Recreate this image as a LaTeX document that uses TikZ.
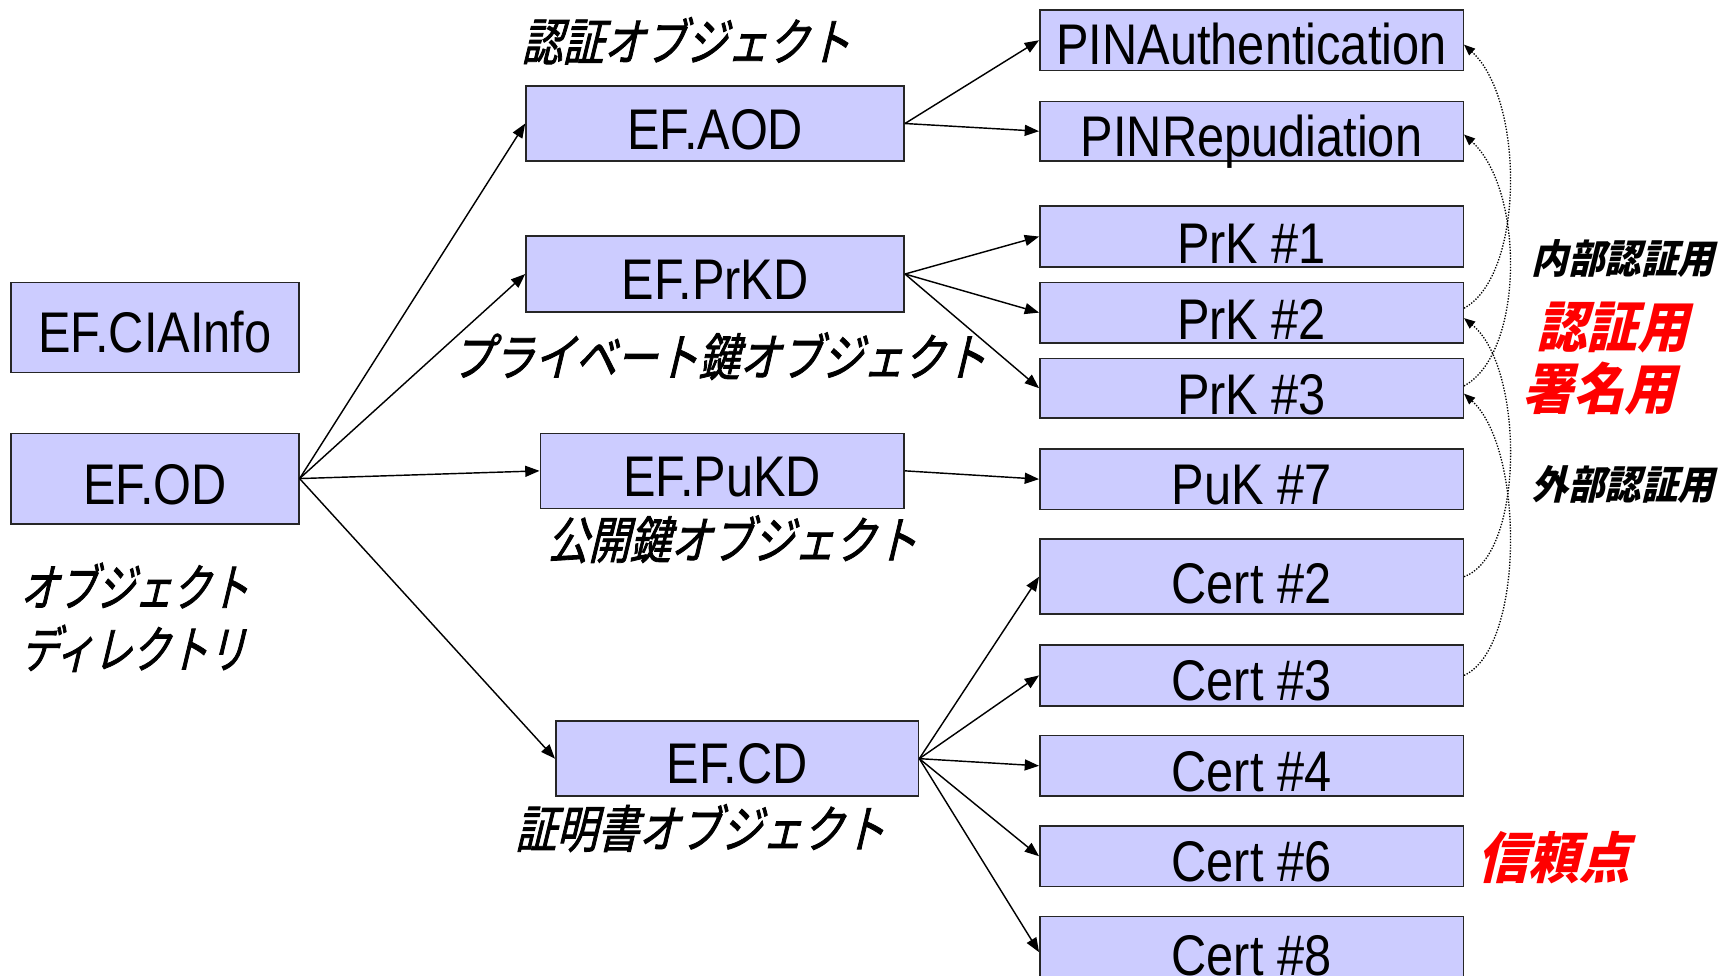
\documentclass[tikz,border=0pt]{standalone}
\usepackage{fontspec}
\usetikzlibrary{arrows.meta}
\newfontfamily\boxfont[FakeStretch=0.85]{Liberation Sans}
\newfontfamily\jpfont[FakeSlant=0.24,FakeStretch=0.81,FakeBold=1.6]{Noto Sans CJK JP}
\newfontfamily\jpnarrow[FakeSlant=0.24,FakeStretch=0.75,FakeBold=1.6]{Noto Sans CJK JP}
\newfontfamily\jpheavy[FakeSlant=0.24,FakeStretch=0.92]{Noto Sans CJK JP}
\definecolor{boxfill}{RGB}{204,204,255}
\definecolor{hot}{RGB}{255,0,0}

% object box: name, left, top, right, bottom, text, baseline lift
\newcommand\objbox[7]{%
  \node[objframe, minimum width={(#4-#2)*0.5pt}, minimum height={(#5-#3)*0.5pt}]
    (#1) at ({(#2+#4)/2},{(#3+#5)/2}) {};
  \node[objlabel] (#1-text) at ([yshift=#7]#1.south) {#6};
}

\tikzset{
  objframe/.style={draw=black!85, fill=boxfill, line width=0.7pt, inner sep=0pt, rectangle},
  objlabel/.style={anchor=base, inner sep=0pt, font=\boxfont\fontsize{26}{30}\selectfont},
  caption/.style={inner sep=0pt, font=\jpfont\fontsize{23}{28}\selectfont},
  dircaption/.style={inner sep=0pt, anchor=west, font=\jpnarrow\fontsize{23}{28}\selectfont},
  note/.style={inner sep=0pt, font=\jpheavy\bfseries\fontsize{18}{21}\selectfont},
  rednote/.style={inner sep=0pt, text=hot, font=\jpheavy\bfseries\fontsize{25}{29}\selectfont},
  link/.style={line width=0.65pt, -{Triangle[length=6.5pt,width=5pt]}},
  dotlink/.style={line width=0.6pt, dash pattern=on 0.6pt off 0.7pt,
                  -{Triangle[length=5pt,width=4pt]}}
}

\begin{document}
\begin{tikzpicture}[x=0.5pt,y=-0.5pt]
\useasboundingbox (0,0) rectangle (1568,885);
\clip (0,0) rectangle (1568,885);

% directory files
\objbox{ciainfo}{10}{256}{271}{338}{EF.CIAInfo}{9.5pt}
\objbox{od}{10}{393}{271}{475}{EF.OD}{9pt}

% object directory files
\objbox{aod}{477}{78}{820}{146}{EF.AOD}{5.5pt}
\objbox{prkd}{477}{214}{820}{283}{EF.PrKD}{6pt}
\objbox{pukd}{490}{393}{820}{461}{EF.PuKD}{5.5pt}
\objbox{cd}{504}{654}{833}{722}{EF.CD}{6pt}

% objects
\objbox{pinauth}{943}{9}{1327}{64}{PINAuthentication}{3pt}
\objbox{pinrep}{943}{92}{1327}{146}{PINRepudiation}{2.5pt}
\objbox{prk1}{943}{187}{1327}{242}{PrK \#1}{2pt}
\objbox{prk2}{943}{256}{1327}{311}{PrK \#2}{2pt}
\objbox{prk3}{943}{325}{1327}{379}{PrK \#3}{2pt}
\objbox{puk7}{943}{407}{1327}{462}{PuK \#7}{2.5pt}
\objbox{cert2}{943}{489}{1327}{557}{Cert \#2}{5pt}
\objbox{cert3}{943}{585}{1327}{640}{Cert \#3}{2.5pt}
\objbox{cert4}{943}{667}{1327}{722}{Cert \#4}{2.5pt}
\objbox{cert6}{943}{749}{1327}{804}{Cert \#6}{2.5pt}
\objbox{cert8}{943}{831}{1327}{896}{Cert \#8}{6pt}

% captions
\node[caption] (cap-aod) at (622,37) {認証オブジェクト};
\node[caption] (cap-prkd) at (652,323) {プライベート鍵オブジェクト};
\node[caption] (cap-pukd) at (664,489) {公開鍵オブジェクト};
\node[caption] (cap-cd) at (635,751) {証明書オブジェクト};
\node[dircaption] (cap-od1) at (18,531) {オブジェクト};
\node[dircaption] (cap-od2) at (18,588) {ディレクトリ};

\node[note] (internal) at (1472,234) {内部認証用};
\node[note] (external) at (1472,439) {外部認証用};
\node[rednote] (auth) at (1462,297) {認証用};
\node[rednote] (sign) at (1450,352) {署名用};
\node[rednote] (trust) at (1409,778) {信頼点};

% directory tree
\draw[link] (od.east) -- (aod.west);
\draw[link] (od.east) -- (prkd.west);
\draw[link] (od.east) -- (pukd.west);
\draw[link] (od.east) -- (cd.west);

\draw[link] (aod.east) -- (pinauth.west);
\draw[link] (aod.east) -- (pinrep.west);

\draw[link] (prkd.east) -- (prk1.west);
\draw[link] (prkd.east) -- (prk2.west);
\draw[link] (prkd.east) -- (prk3.west);

\draw[link] (pukd.east) -- (puk7.west);

\draw[link] (cd.east) -- (cert2.west);
\draw[link] (cd.east) -- (cert3.west);
\draw[link] (cd.east) -- (cert4.west);
\draw[link] (cd.east) -- (cert6.west);
\draw[link] (cd.east) -- (cert8.west);

% key / PIN / certificate associations
\draw[dotlink] ([yshift=2pt]prk2.east) .. controls +(55,-30) and +(55,50) .. ([yshift=-2pt]pinauth.east);
\draw[dotlink] ([yshift=1pt]prk3.east) .. controls +(55,-30) and +(55,50) .. ([yshift=-1.5pt]pinrep.east);
\draw[dotlink] (cert2.east) .. controls +(55,-20) and +(55,45) .. ([yshift=-2.5pt]prk2.east);
\draw[dotlink] (cert3.east) .. controls +(55,-25) and +(55,50) .. ([yshift=-2.5pt]prk3.east);
\end{tikzpicture}
\end{document}
